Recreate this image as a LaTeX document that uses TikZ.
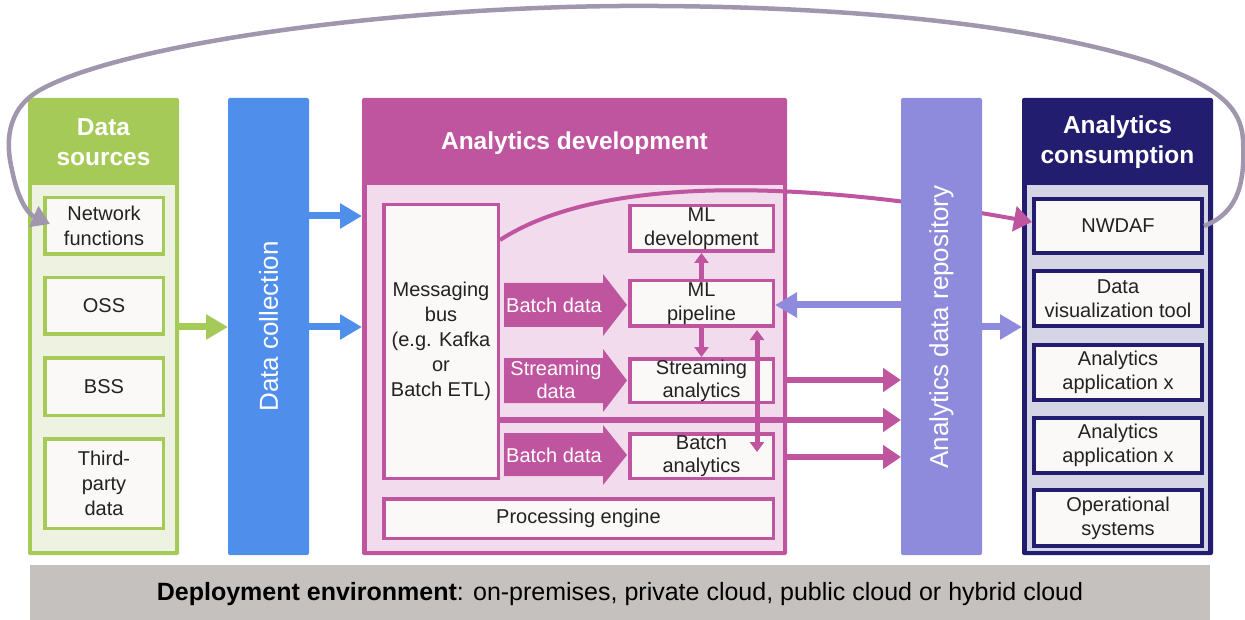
\documentclass[tikz,border=0pt]{standalone}
\usepackage{fontspec}
\setmainfont{Liberation Sans}
\usetikzlibrary{arrows.meta}
\definecolor{dsgreen}{HTML}{A6CA58}
\definecolor{dslight}{HTML}{EDF3E0}
\definecolor{dcblue}{HTML}{4F8FEB}
\definecolor{devmag}{HTML}{C0559F}
\definecolor{devlight}{HTML}{F2DBEC}
\definecolor{repopurple}{HTML}{8E8BDD}
\definecolor{consnavy}{HTML}{221D6E}
\definecolor{conslight}{HTML}{D5D5E5}
\definecolor{boxfill}{HTML}{FAF9F7}
\definecolor{barcol}{HTML}{C5C1BE}
\definecolor{curvegrey}{HTML}{A096AE}
\definecolor{txt}{HTML}{222222}
\newcommand\bodyf{\fontsize{20}{25}\selectfont}
\newcommand\headf{\fontsize{24.5}{30}\selectfont\bfseries}
\newcommand\rotf{\fontsize{26}{30}\selectfont}
\newcommand\barf{\fontsize{25}{30}\selectfont}
\begin{document}
\begin{tikzpicture}[x=1pt,y=-1pt,
  outerbox/.style={inner sep=0pt, outer sep=0pt, rounded corners=2pt},
  ibox/.style={draw, line width=3.5pt, fill=boxfill, text=txt, align=center, inner sep=0pt, font=\bodyf},
  cbox/.style={draw=consnavy, line width=4pt, fill=boxfill, text=txt, align=center, inner sep=0pt, font=\bodyf, minimum width=168pt},
  headtext/.style={text=white, align=center, font=\headf},
  rottext/.style={text=white, font=\rotf, rotate=90},
  fattext/.style={text=white, align=center, font=\bodyf},
  bigarrow/.style={line width=7pt, -{Triangle[width=24pt,length=22pt]}},
  magarrow/.style={draw=devmag, line width=6.5pt, -{Triangle[width=23pt,length=18pt]}},
  smallarrow/.style={draw=devmag, line width=5pt, -{Triangle[width=14pt,length=10pt]}},
  dblarrow/.style={draw=devmag, line width=5pt, {Triangle[width=14pt,length=10pt]}-{Triangle[width=14pt,length=10pt]}},
  magcurve/.style={draw=devmag, line width=4pt, -{Triangle[width=25pt,length=18pt]}},
  greycurve/.style={draw=curvegrey, line width=4.5pt, -{Triangle[width=22pt,length=18pt]}}
]
\useasboundingbox (0,0) rectangle (1245,620);

% ---- Data sources ----
\node[outerbox, fill=dsgreen, minimum width=151pt, minimum height=457pt] (ds) at (103.5,326.5) {};
\fill[dslight] (32,185) rectangle (175,551);
\node[headtext] (dshead) at (103.5,142) {Data\\sources};
\node[ibox, draw=dsgreen, minimum width=118.5pt, minimum height=56.5pt] (nf) at (104,226) {Network\\functions};
\node[ibox, draw=dsgreen, minimum width=118.5pt, minimum height=56.5pt] (oss) at (104,306) {OSS};
\node[ibox, draw=dsgreen, minimum width=118.5pt, minimum height=57.5pt] (bss) at (104,386.5) {BSS};
\node[ibox, draw=dsgreen, minimum width=118.5pt, minimum height=89.5pt] (third) at (104,483.5) {Third-\\party\\data};

% ---- Data collection ----
\node[outerbox, fill=dcblue, minimum width=81pt, minimum height=457pt] (dc) at (268.5,326.5) {};
\node[rottext] (dctext) at (dc.center) {Data collection};

% ---- Analytics development ----
\node[outerbox, fill=devmag, minimum width=425pt, minimum height=457pt] (dev) at (574.5,326.5) {};
\fill[devlight] (366.5,185) rectangle (782.5,550.5);
\node[headtext] (devhead) at (574.5,143) {Analytics development};
\node[ibox, draw=devmag, minimum width=114.5pt, minimum height=273.5pt] (bus) at (441,341.5) {Messaging\\bus\\(e.g. Kafka\\or\\Batch ETL)};
\node[ibox, draw=devmag, minimum width=143.5pt, minimum height=45.5pt] (mldev) at (701.5,228.5) {ML\\[-1pt]development};
\node[ibox, draw=devmag, minimum width=143.5pt, minimum height=45.5pt] (pipe) at (701.5,303.5) {ML\\[-1pt]pipeline};
\node[ibox, draw=devmag, minimum width=143.5pt, minimum height=43.5pt] (stream) at (701.5,380.5) {Streaming\\[-2pt]analytics};
\node[ibox, draw=devmag, minimum width=143.5pt, minimum height=44.5pt] (batch) at (701.5,456) {Batch\\[-2pt]analytics};
\node[ibox, draw=devmag, minimum width=389.5pt, minimum height=39.5pt] (proc) at (578.5,518.5) {Processing engine};

% fat arrows
\fill[devmag] (504,283) -- (603,283) -- (603,274) -- (627,305) -- (603,336) -- (603,327) -- (504,327) -- cycle;
\node[fattext] (fa1) at (554,305) {Batch data};
\fill[devmag] (504,358) -- (603,358) -- (603,349) -- (627,380.5) -- (603,412) -- (603,403) -- (504,403) -- cycle;
\node[fattext] (fa2) at (556,380) {Streaming\\[-2pt]data};
\fill[devmag] (504,433) -- (603,433) -- (603,425) -- (627,455) -- (603,485) -- (603,476) -- (504,476) -- cycle;
\node[fattext] (fa3) at (554,455) {Batch data};

% small arrows
\draw[smallarrow] (pipe.north) -- (mldev.south);
\draw[smallarrow] (pipe.south) -- (stream.north);
\coordinate (dtop) at (757,330);
\coordinate (dbot) at (757,452);
\draw[dblarrow] (dtop) -- (dbot);

% curve from messaging bus to NWDAF
\coordinate (busout) at (500,240);

% ---- Analytics consumption ----
\node[outerbox, fill=consnavy, minimum width=191pt, minimum height=457pt] (cons) at (1117.5,326.5) {};
\fill[conslight] (1027,185) rectangle (1208,550.5);
\node[headtext] (conshead) at (1117.5,142) {Analytics\\consumption};
\node[cbox, minimum height=54pt] (nwdaf) at (1118,226) {NWDAF};
\node[cbox, minimum height=55pt] (dvt) at (1118,298.5) {Data\\[-1pt]visualization tool};
\node[cbox, minimum height=55pt] (aa1) at (1118,372.5) {Analytics\\[-1pt]application x};
\node[cbox, minimum height=55pt] (aa2) at (1118,445.5) {Analytics\\[-1pt]application x};
\node[cbox, minimum height=56pt] (ops) at (1118,518) {Operational\\[-1pt]systems};

\draw[magcurve] (busout) .. controls (600,175) and (800,180) .. ([yshift=4pt]nwdaf.west);

% ---- Analytics data repository ----
\node[outerbox, fill=repopurple, minimum width=81pt, minimum height=457pt] (repo) at (941.5,326.5) {};
\node[rottext] (repotext) at (941.5,327) {Analytics data repository};

% ---- arrows between columns ----
\draw[bigarrow, draw=dsgreen] (ds.east |- 0,327) -- (dc.west |- 0,327);
\draw[bigarrow, draw=dcblue] (dc.east |- 0,216) -- (dev.west |- 0,216);
\draw[bigarrow, draw=dcblue] (dc.east |- 0,327) -- (dev.west |- 0,327);
\draw[bigarrow, draw=repopurple] (repo.west |- 0,305) -- (pipe.east |- 0,305);
\draw[bigarrow, draw=repopurple] (repo.east |- 0,327) -- (cons.west |- 0,327);
\draw[magarrow] (dev.east |- 0,380) -- (repo.west |- 0,380);
\draw[magarrow] (bus.east |- 0,420) -- (repo.west |- 0,420);
\draw[magarrow] (dev.east |- 0,457) -- (repo.west |- 0,457);

% ---- feedback curve ----
\coordinate (nftip) at (50,224);
\draw[greycurve] (nwdaf.east) .. controls (1240,212) and (1245,180) .. (1243,140)
  .. controls (1241,105) and (1215,86) .. (1150,62)
  .. controls (1010,18) and (800,5) .. (620,6)
  .. controls (380,8) and (120,45) .. (40,90)
  .. controls (5,110) and (6,145) .. (12,170)
  .. controls (18,200) and (28,214) .. (nftip);

% ---- Deployment bar ----
\node[fill=barcol, minimum width=1180pt, minimum height=55pt, inner sep=0pt, outer sep=0pt] (bar) at (620,592.5) {};
\node[font=\barf, text=black] (bartext) at (620,594) {\textbf{Deployment environment}: on-premises, private cloud, public cloud or hybrid cloud};
\end{tikzpicture}
\end{document}
